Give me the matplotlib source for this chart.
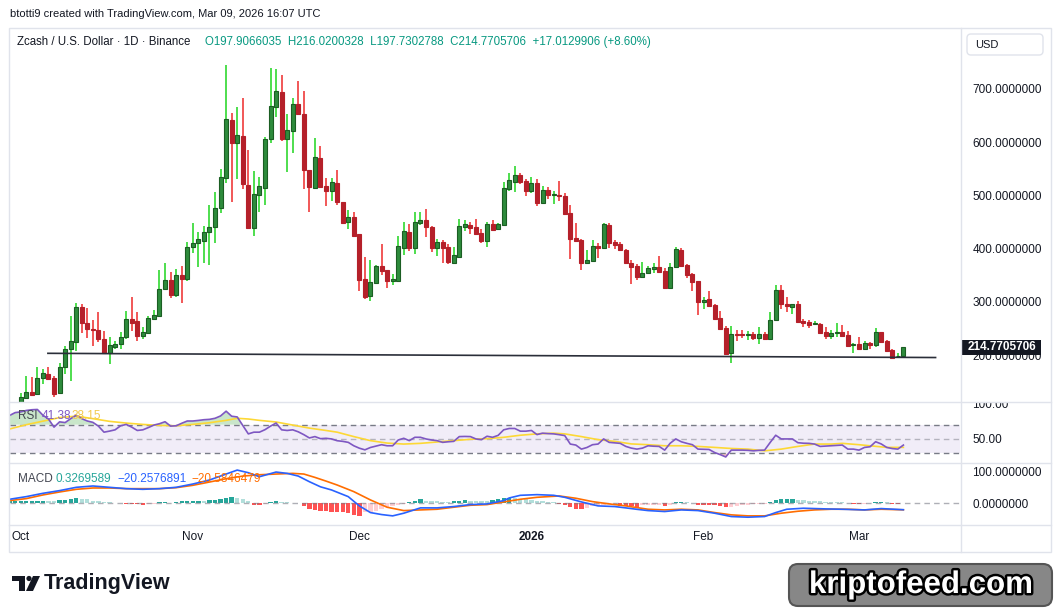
import numpy as np
import pandas as pd
import matplotlib
matplotlib.use("Agg")
from matplotlib import pyplot as plt
from matplotlib.patches import Rectangle, FancyBboxPatch, Polygon, Circle
import matplotlib.patheffects as pe

plt.rcParams['font.family'] = ['Liberation Sans', 'DejaVu Sans']

# daily ZEC/USD candles, Oct 1 2025 .. Mar 9 2026
opens = [102, 118.9, 130.8, 126.4, 156.5, 164.6, 156.5, 128.3, 177.1, 212.2,
         225.3, 289.8, 259.7, 249.7, 247.2, 230.3, 203.4, 216, 220.3, 234.7,
         267.2, 264.1, 236.6, 242.2, 268.5, 273.5, 323.6, 341.1, 312.9, 350.5,
         343.6, 402.4, 410, 415, 430.6, 440, 475.7, 532, 640.9, 597.7,
         610.9, 519.5, 439.4, 501.3, 514.5, 605.9, 666.6, 693.5, 605.9, 621.5,
         671.6, 652.8, 547.6, 513.2, 570.2, 517.6, 508.8, 523.2, 486.9, 450.6,
         458.8, 427.5, 343, 311.7, 336.1, 367.4, 359.9, 338.6, 339.9, 401.8,
         430.6, 401.8, 448.1, 453.1, 440, 401.8, 411.8, 402.4, 373.6, 384.9,
         441.2, 444.4, 440, 428.8, 415, 445.7, 436.3, 444.4, 512.7, 525.8,
         537.7, 527.1, 508.9, 522.7, 485.1, 509.5, 501.4, 500.1, 498.9, 467,
         420, 416.3, 373.7, 377.5, 405, 401.9, 444.4, 412.5, 408.8, 397.5,
         372.5, 367.5, 347.4, 353.7, 362.5, 365.6, 358.1, 326.1, 365.6, 397.5,
         369.3, 352.4, 339.3, 300.5, 305.5, 294.2, 269.8, 251, 204.7, 239.7,
         239.7, 238.5, 239.7, 232.9, 239.1, 231, 265.4, 321.7, 296.1, 291.1,
         296.1, 264.1, 261.6, 259.1, 258.5, 243.5, 236, 242.2, 242.9, 237.2,
         219.7, 221, 212.2, 222.8, 219.7, 242.9, 226.6, 209.7, 197.8, 197.9066]
highs = [129.6, 160.9, 158.3, 177.1, 174, 177.1, 160.9, 185.9, 217.2, 273.5,
         297.3, 296.1, 288.5, 266, 280.4, 245.3, 234.7, 226.6, 242.8, 282.9,
         308.5, 280.4, 252.2, 273.5, 284.8, 359.9, 372.4, 356.1, 361.1, 367.4,
         412.5, 448.1, 431.2, 443.1, 481.9, 506.3, 549.5, 744.8, 655.3, 665.9,
         682.2, 585.2, 545.8, 534.5, 609, 739.2, 737.3, 726, 652.8, 682.8,
         714.8, 696, 548, 607.7, 592.7, 533.3, 532, 547.6, 488, 472.5,
         468.2, 428, 384.9, 378.7, 369.3, 408.7, 360.5, 352.4, 423.7, 450,
         446.9, 468.8, 468.8, 474.4, 443.1, 418.1, 416.2, 408.7, 402.4, 455.6,
         453.8, 449.4, 455.6, 436.9, 450.1, 453.8, 447.6, 525.2, 542.1, 555.2,
         542.1, 530.2, 534.6, 530.2, 517.7, 515.8, 508.3, 527.1, 504.5, 482,
         448.2, 417.5, 397.5, 416.3, 410.6, 448.8, 448.2, 416.3, 411.9, 400,
         378.7, 370.6, 375, 368.1, 373.1, 386.9, 363.1, 372.5, 403.1, 400.6,
         371.2, 354.9, 340, 309.2, 320.5, 296.1, 282.9, 254.8, 254.8, 247.2,
         247.2, 245.4, 243.5, 252.9, 243.5, 281.1, 331.7, 331.7, 309.2, 296,
         301.7, 267.3, 266, 264.1, 259.8, 252.9, 247.2, 260.4, 256, 244.7,
         223.5, 233.5, 226.6, 224.7, 251, 243.5, 228.5, 210.9, 204, 216.0200]
lows = [98, 118.9, 123.9, 126, 145.2, 153.3, 120.8, 127, 164, 152.1,
        208.4, 242.2, 231.6, 217.2, 225.3, 203, 183.4, 210.9, 212.2, 231,
        246, 227.2, 229.7, 241, 266.6, 273, 322.3, 307.3, 309.8, 298.6,
        339.9, 392.4, 366.1, 373.6, 369.9, 411.2, 467.5, 523.9, 488.2, 530.1,
        511.3, 438, 424.3, 469.4, 482, 597.7, 647.8, 602.7, 544.5, 580.2,
        650.9, 512, 469.4, 512, 513.2, 480.7, 490.1, 482, 446.3, 436.9,
        424, 321.1, 305.4, 302.3, 335, 350.5, 326.7, 332.3, 339, 388.1,
        396.2, 389.9, 445, 422.5, 394.3, 386.8, 373.6, 371.1, 371.1, 384,
        433.7, 427.5, 425.6, 411.3, 403.8, 433.8, 435, 442.6, 508.3, 507,
        520.8, 499.5, 505.2, 480.7, 484.5, 493.3, 484.5, 490.1, 465, 381.2,
        412.5, 360, 371.2, 377, 382.5, 401, 401.2, 399.4, 396.2, 373,
        334.3, 341.2, 347, 352.4, 355, 356, 324.3, 325, 363.1, 367.5,
        344.9, 320.5, 275.4, 286.7, 291.1, 266, 249.8, 202.8, 185.9, 227.2,
        232.9, 229.1, 229.1, 221.6, 229.1, 229.1, 265.4, 287.3, 281.7, 277.9,
        262.9, 253.5, 251.6, 258.8, 242.2, 230.4, 230.4, 234.1, 235.8, 215.3,
        204.7, 212, 211.8, 212.2, 215.9, 225.3, 206.5, 193.8, 194, 197.7303]
closes = [120.8, 130.2, 125.8, 156.5, 165.8, 155.2, 126.4, 177.1, 210.9, 226.6,
          289.8, 259.7, 248.5, 247.8, 229.7, 203.4, 219.1, 220.9, 233.5, 267.2,
          261, 236.6, 242.8, 269.1, 274.7, 323.6, 341.1, 312.9, 350.5, 343,
          402.4, 410, 417.5, 430.6, 440, 475.7, 533.9, 642.8, 597.7, 612.7,
          520.7, 439.4, 502.6, 517, 605.9, 667.2, 695.4, 605.9, 622.8, 671.6,
          652.8, 547.6, 516.4, 572.1, 515.1, 508.8, 524.5, 488.2, 448.8, 458.8,
          424.3, 341.1, 309.8, 337.4, 367.4, 358.6, 339.9, 343, 404.9, 432.5,
          401.8, 449.4, 453.1, 441.2, 401.8, 411.8, 401.8, 375.5, 387.4, 441.9,
          446.3, 439.4, 427.5, 415, 445.7, 435, 445.7, 513.3, 528.3, 537.7,
          525.2, 508.9, 522.7, 485.1, 509.5, 500.1, 502.6, 498.9, 465.7, 418.8,
          415, 373.7, 378.7, 405, 401.9, 446.3, 411.3, 407.5, 397.5, 373.7,
          366.2, 347.4, 353.7, 363.1, 365.6, 356.8, 326.1, 365.6, 399.4, 368.1,
          350.6, 337.4, 300.5, 303.6, 292.9, 267.9, 249.8, 202.8, 239.1, 238.5,
          238.5, 239.7, 232.2, 239.1, 231, 265.4, 321.7, 296.7, 293, 295.4,
          262.9, 261, 257.3, 260.4, 242.2, 236, 241, 243.5, 236, 217.2,
          221, 212.2, 222.2, 219.7, 242.9, 225.3, 208.4, 194, 197.9, 214.7706]

# drawn trend line (day, price)
trend_days = [4.9, 164.8]
trend_prices = [203.5, 195.6]

# RSI(14) and its moving average, read at day positions
rsi_days = list(range(-2, 160))
rsi_vals = [83, 87, 88, 90, 91, 91.4, 83.3, 78, 66.6, 74,
            73, 78.5, 83.3, 78.5, 75.2, 73.3, 68, 59.5, 61, 62.8,
            68.5, 70.4, 66.6, 61.9, 62.8, 66, 69.5, 71.4, 74.2, 68,
            68.5, 72, 75.2, 75.2, 76, 77, 77.5, 79, 82.3, 89,
            81.9, 80.9, 69, 57.1, 59.5, 59.5, 63, 68, 72.3, 62.8,
            61.9, 62.8, 60, 56, 51.4, 53.3, 50.4, 50.9, 50, 47.5,
            46.6, 45.2, 40.4, 37, 34.7, 38, 40, 41.9, 40.4, 40.4,
            48.5, 50.9, 47.6, 52.3, 52.3, 50, 48.5, 47.6, 45.2, 46,
            46.6, 53.3, 53.5, 53.3, 50, 49, 53.8, 52.3, 55, 62.8,
            64.7, 64.7, 60.9, 60.9, 61.9, 56.1, 58.1, 57.5, 57.1, 56,
            54.7, 42.8, 41.4, 35.7, 38, 41.9, 42.8, 50, 45.2, 44.5,
            43.8, 39.5, 37.1, 35.7, 37.1, 40.4, 39.8, 39.5, 34.3, 44,
            50, 46, 43.8, 41.9, 35.7, 35.4, 35.2, 30.9, 28, 24.7,
            34.3, 34.3, 34.3, 34, 33.3, 34, 34.3, 45, 55.2, 50,
            50, 50, 44.7, 44, 43.8, 42.8, 39.5, 40, 40.4, 41,
            41.4, 35.7, 35.7, 34.3, 38.1, 39, 46.1, 43, 38.1, 36.5,
            35.7, 41.38]
rsi_ma_days = [-2, 1, 4, 7, 10, 13, 16, 19, 22, 25, 28, 31, 34, 37, 39, 41, 43, 46,
               49, 52, 55, 57, 60, 63, 66, 69, 72, 75, 78, 81, 84, 87, 90, 93, 96,
               98, 101, 104, 107, 110, 113, 116, 119, 122, 125, 128, 131, 134, 137,
               140, 143, 146, 148, 151, 153, 156, 159]
rsi_ma_vals = [64, 70, 75, 80, 82, 78.5, 74.7, 72.3, 70.4, 69, 68.5, 70.4, 72.8, 76.1,
               79, 78, 76.1, 73.8, 69.5, 65.2, 61.9, 59.5, 53.3, 47.6, 44.2, 42.8,
               43.8, 45.7, 47.6, 49.5, 50.4, 52.3, 55.2, 57.1, 58.1, 57.1, 53.3, 49,
               46.6, 43, 41.9, 40.4, 40.4, 39.5, 38.1, 36.6, 35.7, 33.3, 35.7, 39.5,
               42.8, 42.8, 43.8, 41.9, 40.4, 38.1, 38.15]

# MACD(12,26,9)
macd_days = [-2, 1, 4, 7, 10, 13, 16, 19, 22, 25, 28, 31, 34, 37, 39, 41, 43, 46, 48,
             50, 52, 54, 56, 59, 61, 63, 65, 67, 69, 72, 75, 78, 81, 84, 87, 88, 90,
             93, 96, 98, 101, 104, 107, 109, 111, 113, 116, 119, 122, 125, 128, 131,
             134, 136, 138, 141, 145, 148, 152, 155, 159]
macd_vals = [12.7, 21, 31.5, 40, 50.4, 54.6, 50.4, 46.2, 44.1, 46.2, 50.4, 60.8, 73.4,
             92.3, 104.8, 96.5, 83.8, 98.6, 94.4, 85.9, 68.1, 52, 42, 21, -8.2, -29.3,
             -35.5, -39.7, -31.3, -14.5, -14.5, -10.3, -4.1, -2, 8.5, 16.8, 25.2, 27.3,
             25.2, 18.9, 4.3, -8.2, -10.3, -14.5, -19, -23, -26, -20.9, -23, -31.3,
             -41.8, -43.9, -41.8, -29.3, -18.8, -15.6, -17.7, -18.8, -20.9, -16.7,
             -20.2576891]
signal_days = [-2, 1, 4, 7, 10, 13, 16, 19, 22, 25, 28, 31, 34, 37, 40, 43, 46, 49, 51,
               53, 55, 57, 60, 63, 66, 69, 72, 75, 78, 81, 84, 87, 90, 93, 97, 100,
               103, 106, 109, 110, 113, 116, 119, 122, 125, 128, 131, 134, 137, 140,
               143, 146, 149, 152, 155, 159]
signal_vals = [8.5, 14.8, 26.3, 35.7, 44.1, 48.3, 48.3, 46.2, 46.2, 46.2, 49.3, 56.7,
               67.1, 77.6, 85.9, 90.1, 92.3, 94.4, 92.3, 81.7, 70, 57.7, 36.8, 10.6,
               -12.4, -23, -20.9, -18.8, -12.4, -6.2, -4.1, 4.3, 12.7, 18.9, 23.1,
               15.9, 5.3, -2, -8.2, -11, -18.8, -20.9, -18.8, -20.9, -29.3, -36.5,
               -39.7, -39.7, -31.3, -25.1, -20.9, -18.8, -18.8, -20.9, -18.8,
               -20.5846479]
hist_days = list(range(-2, 160))
hist_vals = [6, 7, 7, 7.5, 7.5, 8.5, 8.6, 7.5, 7, 9.5,
             11.5, 13.5, 15.5, 13.5, 12.5, 8.5, 6.5, 4, 3, 2,
             1, -1, -1.5, -2, -4, -3, -1, 3, 3.5, 2.5,
             5, 6.5, 7.5, 8, 8.5, 6.5, 9.5, 11.5, 13.5, 17,
             20, 18, 13.5, 6.5, -4, -5, -2, 3, 6.5, 4,
             3, 2, 1, -9.5, -17, -20, -23, -25, -26, -27,
             -29, -31.5, -37, -39, -29, -26, -23, -17, -12.5, -8.5,
             -4, -2, 5, 8.5, 12.5, 8.5, 8.3, 7.5, 5, 4,
             8.5, 8.7, 10.5, 8.5, 7.5, 7.3, 6.5, 10.5, 13.5, 17,
             18, 16, 14.5, 12.5, 10.5, 7.5, 7, 5, 3, -2,
             -6.5, -10.5, -17, -17.5, -14.5, -8.5, -6.5, -4, -3, -2.8,
             -8.5, -8.7, -10, -10.5, -6.5, -6.3, -6, -4, -8.5, -4,
             5, 5.5, 4, 1, -4, -4.2, -5, -6.5, -8.5, -12.5,
             -10.5, -8.5, -6.5, -4, -3, -2, -1, 5, 10.5, 13.5,
             13.6, 14, 10.5, 10.4, 8.5, 8.4, 7.5, 5, 4, 3.9,
             3, 1, -1, -1.5, -1, -0.5, 4, 4.5, 3, -1,
             -1.2, 0.3269589]

dates = pd.date_range('2025-10-01', periods=len(closes), freq='D')
month_labels = ['Oct', 'Nov', 'Dec', '2026', 'Feb', 'Mar']

W, H = 1057, 613
fig = plt.figure(figsize=(W / 100, H / 100), dpi=100)
fig.patch.set_facecolor('white')


def box(x0, y0, x1, y1):
    return [x0 / W, 1 - y1 / H, (x1 - x0) / W, (y1 - y0) / H]


TXT = '#131722'
GRID = '#e0e3eb'
XL = (-1.93, 169.2)

ax = fig.add_axes(box(10, 28, 960, 402))
ax_rsi = fig.add_axes(box(10, 402, 960, 462))
ax_macd = fig.add_axes(box(10, 462, 960, 525))
ax_time = fig.add_axes(box(10, 525, 960, 552))
for a in (ax, ax_rsi, ax_macd, ax_time):
    a.set_xlim(*XL)
    for s in a.spines.values():
        s.set_visible(False)
    a.set_xticks([])
    a.tick_params(axis='y', length=0, labelsize=8.5, labelcolor=TXT, pad=9)
    a.yaxis.tick_right()

# ---- candles ----
x = np.arange(len(closes))
o = np.array(opens); h = np.array(highs); l = np.array(lows); c = np.array(closes)
up = c >= o
wick_col = np.where(up, '#1ed41e', '#ee2a2a')
ax.vlines(x, l, h, colors=wick_col, linewidth=1.1, zorder=2)
body_lo = np.minimum(o, c)
body_h = np.maximum(np.abs(c - o), 1.3)
ax.bar(x[up], body_h[up], bottom=body_lo[up], width=0.72, color='#2e8b3c',
       edgecolor='#1b5e23', linewidth=0.8, zorder=3)
ax.bar(x[~up], body_h[~up], bottom=body_lo[~up], width=0.72, color='#b5202a',
       edgecolor='#b5202a', linewidth=0.8, zorder=3)
ax.plot(trend_days, trend_prices, color='#2a2e39', lw=1.2, zorder=4)
ax.set_ylim(112.1, 814.3)
ax.set_yticks([200, 300, 400, 500, 600, 700])
ax.set_yticklabels([f'{v:.7f}' for v in [200, 300, 400, 500, 600, 700]])

# ---- RSI ----
ax_rsi.set_ylim(17.6, 101.9)
ax_rsi.axhspan(30, 70, color='#7e57c2', alpha=0.1, lw=0)
ax_rsi.axhline(70, color='#787b86', lw=1, dashes=(4, 3))
ax_rsi.axhline(30, color='#787b86', lw=1, dashes=(4, 3))
ax_rsi.axhline(50, color='#787b86', lw=1, alpha=0.5, dashes=(4, 3))
rd = np.array(rsi_days, float); rv = np.array(rsi_vals)
ax_rsi.fill_between(rd, 70, rv, where=rv > 70, interpolate=True, color='#4caf50', alpha=0.3, lw=0)
ax_rsi.fill_between(rd, 30, rv, where=rv < 30, interpolate=True, color='#f23645', alpha=0.3, lw=0)
ax_rsi.plot(rsi_ma_days, rsi_ma_vals, color='#fdd835', lw=1.2)
ax_rsi.plot(rd, rv, color='#7e57c2', lw=1.2)
ax_rsi.set_yticks([50, 100])
ax_rsi.set_yticklabels(['50.00', '100.00'])

# ---- MACD ----
ax_macd.set_ylim(-68.5, 130.3)
ax_macd.axhline(0, color='#787b86', lw=1, alpha=0.6, dashes=(4, 3))
hv = np.array(hist_vals)
prev = np.concatenate([[hv[0]], hv[:-1]])
hcol = np.where(hv >= 0, np.where(hv >= prev, '#26a69a', '#b2dfdb'),
                np.where(hv < prev, '#ff5252', '#ffcdd2'))
ax_macd.bar(hist_days, hv, width=0.78, color=hcol, lw=0)
ax_macd.plot(signal_days, signal_vals, color='#ff6d00', lw=1.2)
ax_macd.plot(macd_days, macd_vals, color='#2962ff', lw=1.2)
ax_macd.set_yticks([0, 100])
ax_macd.set_yticklabels(['0.0000000', '100.0000000'])

# ---- time axis ----
ax_time.set_yticks([])
ax_time.set_ylim(0, 1)
starts = [i for i, d in enumerate(dates) if d.day == 1]
for i, lab in zip(starts, month_labels):
    ax_time.text(i, 0.55, lab, ha='center', va='center', fontsize=8.5, color=TXT,
                 fontweight='bold' if lab == '2026' else 'normal')

# ---- overlay in pixel coordinates ----
ov = fig.add_axes([0, 0, 1, 1], zorder=10)
ov.set_xlim(0, W); ov.set_ylim(H, 0); ov.axis('off'); ov.patch.set_alpha(0)
ov.add_patch(Rectangle((961, 395), 90, 7, fc='white', ec='none'))
ov.add_patch(Rectangle((8.5, 27.5), 1042, 524.5, fc='none', ec=GRID, lw=1))
for yy in (402, 462.5, 525):
    ov.plot([8.5, 1050.5], [yy, yy], color=GRID, lw=1)
ov.plot([961, 961], [27.5, 552], color=GRID, lw=1)

fig.text(10 / W, 1 - 14 / H, 'btotti9 created with TradingView.com, Mar 09, 2026 16:07 UTC',
         fontsize=8, color=TXT, va='center')
ov.text(17, 42, 'Zcash / U.S. Dollar \u00b7 1D \u00b7 Binance', fontsize=8.3, color=TXT, va='center')
ov.text(205, 42, 'O197.9066035  H216.0200328  L197.7302788  C214.7705706  +17.0129906 (+8.60%)',
        fontsize=8.3, color='#089981', va='center')

ov.add_patch(FancyBboxPatch((967, 34), 76, 21, boxstyle='round,pad=0,rounding_size=4',
                            fc='white', ec=GRID, lw=1))
ov.text(975, 44.5, 'USD', fontsize=8, color=TXT, va='center')

# last price tag sits over the 200 label, as on the reference
ov.add_patch(Rectangle((962, 340), 79, 15, fc='#131722', ec='none'))
ov.text(1001.5, 347.5, '214.7705706', fontsize=8.5, color='white', fontweight='bold',
        ha='center', va='center')

ov.text(18, 416, 'RSI', fontsize=8.5, color='#434651', va='center')
ov.text(42, 416, '41.38', fontsize=8.5, color='#7e57c2', va='center')
ov.text(72, 416, '38.15', fontsize=8.5, color='#f2c94c', va='center')
ov.text(18, 479, 'MACD', fontsize=8.5, color='#434651', va='center')
ov.text(55, 479, '0.3269589', fontsize=8.5, color='#26a69a', va='center')
ov.text(117, 479, '\u221220.2576891', fontsize=8.5, color='#2962ff', va='center')
ov.text(191, 479, '\u221220.5846479', fontsize=8.5, color='#ff6d00', va='center')

# TradingView logo + wordmark
ov.add_patch(Polygon([[12, 576], [25, 576], [25, 591], [19, 591], [19, 581], [12, 581]],
                     closed=True, fc='#131722', ec='none'))
ov.add_patch(Circle((29, 578.5), 2.6, fc='#131722', ec='none'))
ov.add_patch(Polygon([[26, 591], [33, 576], [40, 576], [33, 591]], closed=True,
                     fc='#131722', ec='none'))
ov.text(44, 583.5, 'TradingView', fontsize=15.5, fontweight='bold', color='#131722', va='center')

# watermark
ov.add_patch(FancyBboxPatch((789, 564), 263, 42, boxstyle='round,pad=0,rounding_size=9',
                            fc='#878787', ec='#555555', lw=1.5))
ov.text(921, 585, 'kriptofeed.com', fontsize=22.5, fontweight='bold', color='white',
        ha='center', va='center',
        path_effects=[pe.withStroke(linewidth=3.5, foreground='black')])

fig.savefig('out.png', dpi=100)
